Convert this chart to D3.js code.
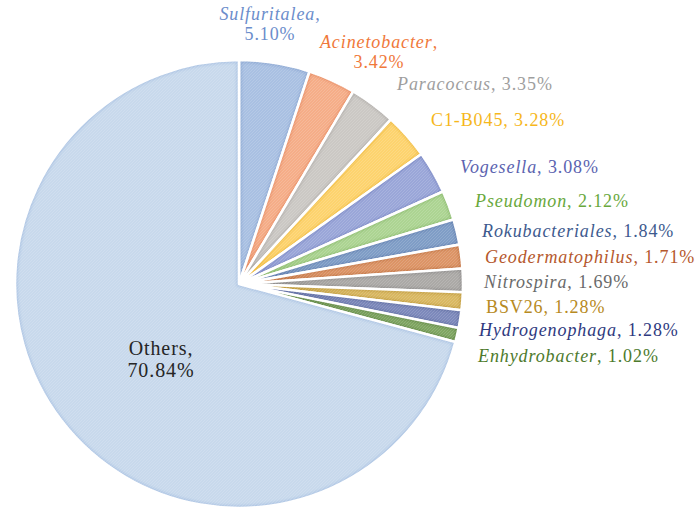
<!DOCTYPE html>
<html><head><meta charset="utf-8">
<script src="https://cdn.jsdelivr.net/npm/d3@7"></script>
<style>body{margin:0;background:#fff}svg{display:block}
.lbl{font-family:"Liberation Serif","Times New Roman","DejaVu Serif",serif;font-size:18px;letter-spacing:0.9px}</style>
</head><body>
<script>
// ---- data ----
const categories = ["Sulfuritalea","Acinetobacter","Paracoccus","C1-B045","Vogesella","Pseudomon","Rokubacteriales","Geodermatophilus","Nitrospira","BSV26","Hydrogenophaga","Enhydrobacter","Others"];
const values = [5.10,3.42,3.35,3.28,3.08,2.12,1.84,1.71,1.69,1.28,1.28,1.02,70.84];
const valueLabels = ["5.10%","3.42%","3.35%","3.28%","3.08%","2.12%","1.84%","1.71%","1.69%","1.28%","1.28%","1.02%","70.84%"];
const italicName = [true,true,true,false,true,true,true,true,true,false,true,true,false];

// ---- styles / layout ----
const fills = ["#a9c0e2","#f5ad88","#cbc8c4","#fdd36e","#9aa6d8","#acd492","#7f9dc6","#dc9466","#aba9a6","#d9b862","#7d89bb","#80a663","#c8d9ec"];
const rims  = ["#8ea9d3","#e89068","#b2afab","#f0bd45","#7d8ac6","#8fbd72","#6683b2","#c47848","#939190","#c29e42","#6572a6","#688e4c","#abc3e3"];
const textColors = ["#6b8dcb","#f0783a","#9e9e9e","#f6b71c","#5b63b0","#69a83c","#3d5a8e","#b5582c","#6a6a6a","#b78a22","#2f3a80","#4d7a2c","#262626"];
// label layout: [x, baseline y, anchor, twoLines, fontSize]
const labelPos = [
  [270,20,"middle",true,18],[379,48,"middle",true,18],[397,90,"start",false,18],[431,126,"start",false,18],
  [460,173,"start",false,18],[475,207,"start",false,18],[482,237,"start",false,18],[485,263,"start",false,18],
  [484,288,"start",false,18],[486,313,"start",false,18],[479,336,"start",false,18],[478,362,"start",false,18],
  [161,355,"middle",true,20]
];

const W=700,H=527, cx=239, cy=284, R=224;
const svg=d3.select("body").append("svg").attr("width",W).attr("height",H);
const defs=svg.append("defs");
const pat=defs.append("pattern").attr("id","tex").attr("patternUnits","userSpaceOnUse").attr("width",3).attr("height",3);
pat.append("path").attr("d","M0,3L3,0").attr("stroke","#ffffff").attr("stroke-opacity",0.18).attr("stroke-width",0.8);
const blur=defs.append("filter").attr("id","soft").attr("x","-10%").attr("y","-10%").attr("width","120%").attr("height","120%");
blur.append("feGaussianBlur").attr("stdDeviation",1.4);

const pie=d3.pie().sort(null).value(d=>d).startAngle(0).endAngle(2*Math.PI);
const arcs=pie(values);
const arc=d3.arc().innerRadius(0).outerRadius(R);
const g=svg.append("g").attr("transform",`translate(${cx},${cy})`);

arcs.forEach((a,i)=>{
  const cp=defs.append("clipPath").attr("id","cp"+i);
  cp.append("path").attr("d",arc(a));
});
const sl=g.selectAll("g.slice").data(arcs).join("g").attr("class","slice");
sl.append("path").attr("d",arc).attr("fill",(d,i)=>fills[i]);
sl.append("path").attr("d",arc).attr("fill","none").attr("stroke",(d,i)=>rims[i]).attr("stroke-width",5)
  .attr("filter","url(#soft)").attr("clip-path",(d,i)=>`url(#cp${i})`);
sl.append("path").attr("d",arc).attr("fill","url(#tex)");
sl.append("path").attr("d",arc).attr("fill","none").attr("stroke","#fff").attr("stroke-width",2.6).attr("stroke-linejoin","round");

// labels
const lg=svg.append("g").attr("class","lbl");
categories.forEach((c,i)=>{
  const [x,y,anchor,two,fs]=labelPos[i];
  const t=lg.append("text").attr("x",x).attr("y",y).attr("text-anchor",anchor).attr("fill",textColors[i]).style("font-size",fs+"px");
  t.append("tspan").attr("font-style",italicName[i]?"italic":"normal").text(c);
  if(two){
    t.append("tspan").text(",");
    t.append("tspan").attr("x",x).attr("dy",fs+2).text(valueLabels[i]);
  } else {
    t.append("tspan").text(", "+valueLabels[i]);
  }
});
</script>
</body></html>
